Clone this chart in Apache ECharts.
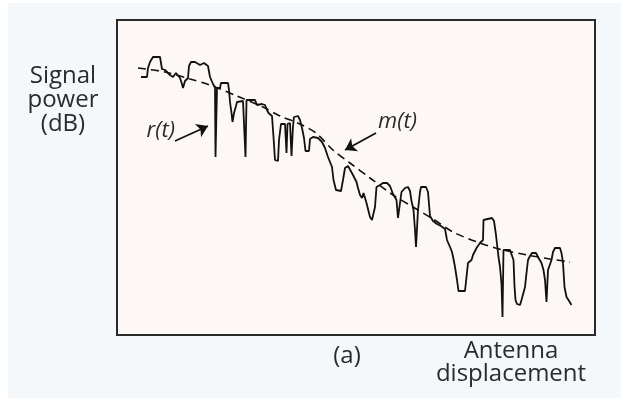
<!DOCTYPE html>
<html>
<head>
<meta charset="utf-8">
<script src="https://cdn.jsdelivr.net/npm/echarts@6/dist/echarts.min.js"></script>
<style>
html,body{margin:0;padding:0;background:#f4f8fb;}
#c{width:621px;height:398px;}
</style>
</head>
<body>
<div id="c"></div>
<script>
// r(t): received signal power samples [displacement, power dB]
const rSamples = [
[2.4,-11.4],[3.0,-11.4],[3.1,-9.6],[3.3,-8.4],[3.5,-8.0],[3.6,-7.4],[4.3,-7.4],[4.4,-7.6],[4.5,-9.8],[4.8,-10.0],
[5.0,-10.2],[5.3,-11.0],[5.6,-11.4],[5.9,-10.6],[6.1,-11.0],[6.3,-11.6],[6.5,-12.8],[6.6,-13.6],[6.8,-12.2],[7.1,-11.6],
[7.2,-9.2],[7.4,-8.4],[7.8,-8.4],[8.0,-8.6],[8.3,-9.0],[8.7,-8.6],[9.1,-9.2],[9.3,-11.4],[9.6,-12.8],[9.8,-13.4],
[9.85,-27.4],[10.0,-13.6],[10.3,-13.6],[10.4,-12.6],[11.1,-12.6],[11.2,-14.0],[11.3,-16.4],[11.45,-18.6],[11.55,-20.4],[11.7,-18.6],
[11.9,-17.2],[12.0,-16.4],[12.6,-16.2],[12.8,-16.0],[12.85,-27.4],[12.95,-16.0],[13.8,-16.0],[14.0,-17.0],[14.1,-16.6],[14.5,-16.8],
[14.8,-17.0],[15.0,-18.0],[15.15,-18.6],[15.5,-19.2],[15.65,-23.4],[15.8,-28.0],[16.1,-28.2],[16.2,-24.0],[16.4,-20.8],[16.8,-20.8],
[16.95,-26.6],[17.05,-20.8],[17.3,-20.6],[17.45,-27.2],[17.6,-21.2],[17.7,-19.4],[18.1,-19.2],[18.3,-20.0],[18.5,-21.6],[18.7,-23.6],
[18.85,-26.2],[19.2,-26.2],[19.3,-23.8],[19.6,-23.4],[20.1,-23.6],[20.5,-24.4],[20.8,-25.6],[21.1,-27.4],[21.5,-29.4],[21.65,-32.0],
[21.9,-34.0],[22.4,-34.2],[22.6,-32.0],[22.8,-29.6],[23.1,-29.2],[23.3,-29.4],[23.6,-31.0],[23.95,-32.4],[24.1,-33.6],[24.3,-35.0],
[24.5,-35.6],[24.65,-34.6],[24.95,-36.6],[25.3,-39.4],[25.5,-40.0],[25.7,-39.8],[25.8,-37.4],[25.95,-33.4],[26.3,-33.0],[26.6,-32.6],
[27.0,-32.6],[27.3,-33.2],[27.6,-34.8],[27.95,-36.0],[28.1,-39.6],[28.3,-36.6],[28.45,-34.4],[28.8,-33.6],[29.1,-33.4],[29.3,-34.2],
[29.45,-36.2],[29.65,-38.0],[29.8,-42.0],[29.9,-45.4],[30.1,-38.0],[30.3,-34.4],[30.4,-33.4],[30.9,-33.4],[31.1,-34.4],[31.3,-39.2],
[31.6,-40.2],[32.0,-40.8],[32.4,-41.2],[32.8,-41.8],[33.0,-44.0],[33.3,-45.4],[33.5,-46.4],[33.65,-47.8],[33.8,-49.4],[34.0,-52.0],
[34.15,-54.2],[34.8,-54.2],[34.95,-51.4],[35.1,-48.6],[35.45,-48.0],[35.6,-47.0],[35.95,-45.6],[36.3,-44.6],[36.6,-44.0],[36.65,-40.0],
[36.8,-39.6],[37.5,-39.6],[37.7,-40.2],[37.9,-43.0],[38.0,-44.8],[38.15,-47.4],[38.3,-49.4],[38.45,-52.8],[38.55,-59.4],[38.65,-46.0],
[38.8,-45.6],[39.3,-46.0],[39.5,-46.4],[39.65,-48.0],[39.75,-53.2],[39.85,-56.0],[40.0,-56.8],[40.3,-57.0],[40.45,-56.0],[40.8,-53.4],
[40.95,-50.6],[41.1,-48.0],[41.3,-47.2],[41.5,-46.6],[41.9,-46.6],[42.1,-47.4],[42.45,-48.6],[42.65,-50.0],[42.8,-52.0],[42.95,-56.4],
[43.1,-50.0],[43.45,-48.0],[43.6,-46.4],[43.8,-45.6],[44.3,-45.6],[44.45,-46.6],[44.6,-48.6],[44.75,-53.4],[44.95,-55.4],[45.15,-56.0],
[45.45,-57.0]
];
// m(t): local mean power [displacement, power dB]
const mSamples = [
[2.1,-9.6],[4.8,-10.4],[7.3,-11.8],[9.3,-13.0],[12.0,-15.2],[14.6,-17.4],[16.3,-19.2],[18.3,-20.8],[19.9,-22.6],[21.6,-26.0],
[23.3,-28.6],[25.3,-31.6],[27.6,-35.0],[29.6,-37.4],[31.6,-39.8],[33.6,-42.4],[36.0,-44.4],[38.6,-46.0],[41.0,-47.0],[43.3,-47.8],
[45.3,-48.4]
];
// annotation arrows [from, to] in data units
const rArrow = [[5.8,-24.2],[9.1,-21.2]];
const mArrow = [[25.9,-22.6],[22.8,-26.0]];
const yLabel = ['Signal','power','(dB)'];
const xLabel = ['Antenna','displacement'];
const panelLabel = '(a)';

const chart = echarts.init(document.getElementById('c'), null, {renderer:'canvas'});
const txt = {fill:'#2b2b2b', fontFamily:'Open Sans', fontSize:24};
const arrowLine = (a) => ({
  type:'line', data:[], silent:true,
  markLine:{
    silent:true, animation:false,
    symbol:['none','arrow'], symbolSize:11,
    lineStyle:{color:'#111', width:1.8, type:'solid'},
    label:{show:false},
    data:[[{coord:a[0]},{coord:a[1]}]]
  }
});
chart.setOption({
  backgroundColor:'#f4f8fb',
  animation:false,
  grid:{left:117, top:20, right:26, bottom:63, show:true, borderColor:'#2a2a2a', borderWidth:2, backgroundColor:'#fdf8f6'},
  xAxis:{type:'value', min:0, max:47.8, show:false},
  yAxis:{type:'value', min:-63, max:0, show:false},
  series:[
    {type:'line', data:rSamples, symbol:'none', lineStyle:{color:'#111', width:1.8}, z:3},
    {type:'line', data:mSamples, symbol:'none', smooth:0.3, lineStyle:{color:'#111', width:1.6, type:[8,5]}, z:2},
    arrowLine(rArrow),
    arrowLine(mArrow)
  ],
  graphic:[
    {type:'rect', shape:{x:0,y:0,width:621,height:3}, style:{fill:'#ffffff'}, silent:true},
    {type:'rect', shape:{x:0,y:0,width:8,height:398}, style:{fill:'#ffffff'}, silent:true},
    {type:'text', x:63, y:88, style:Object.assign({text:yLabel[0], textAlign:'center', textVerticalAlign:'bottom'}, txt)},
    {type:'text', x:63, y:112, style:Object.assign({text:yLabel[1], textAlign:'center', textVerticalAlign:'bottom'}, txt)},
    {type:'text', x:63, y:136, style:Object.assign({text:yLabel[2], textAlign:'center', textVerticalAlign:'bottom'}, txt)},
    {type:'text', x:511, y:363, style:Object.assign({text:xLabel[0], textAlign:'center', textVerticalAlign:'bottom'}, txt)},
    {type:'text', x:511, y:386, style:Object.assign({text:xLabel[1], textAlign:'center', textVerticalAlign:'bottom'}, txt)},
    {type:'text', x:347, y:368, style:Object.assign({text:panelLabel, textAlign:'center', textVerticalAlign:'bottom'}, txt)},
    {type:'text', x:175, y:142, style:{text:'r(t)', textAlign:'right', textVerticalAlign:'bottom', fill:'#2b2b2b', fontFamily:'Open Sans', fontStyle:'italic', fontSize:22}},
    {type:'text', x:378, y:133, style:{text:'m(t)', textAlign:'left', textVerticalAlign:'bottom', fill:'#2b2b2b', fontFamily:'Open Sans', fontStyle:'italic', fontSize:22}}
  ]
});
</script>
</body>
</html>
